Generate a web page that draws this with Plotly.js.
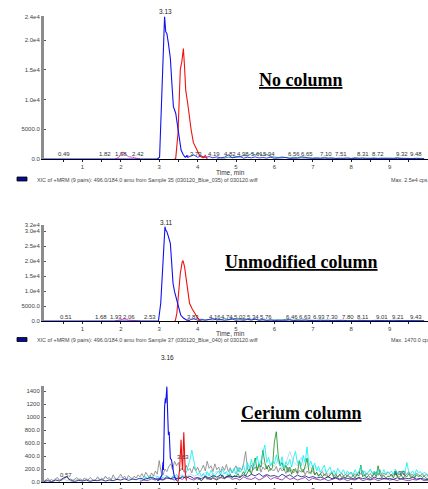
<!DOCTYPE html>
<html>
<head>
<meta charset="utf-8">
<script src="https://cdn.plot.ly/plotly-3.0.1.min.js"></script>
<style>html,body{margin:0;padding:0;background:#fff;}#chart{width:428px;height:489px;}</style>
</head>
<body>
<div id="chart"></div>
<script>
// ---------- Panel 1: No column ----------
const p1BlueT = [0, 2.95, 3.01, 3.05, 3.09, 3.12, 3.14, 3.17, 3.20, 3.24, 3.29, 3.33, 3.37, 3.43, 3.50, 3.57, 3.63, 3.68, 3.72, 3.76];
const p1BlueV = [0, 0, 300, 8250, 15500, 21200, 24000, 21430, 21100, 19470, 16960, 12740, 8800, 7700, 4360, 1510, 670, 300, 500, 200];
const p1RedT = [3.40, 3.43, 3.49, 3.52, 3.55, 3.59, 3.63, 3.66, 3.69, 3.74, 3.78, 3.83, 3.89, 3.98, 4.06, 4.15, 4.20, 4.25];
const p1RedV = [0, 100, 4360, 8800, 15100, 16400, 18600, 15500, 11600, 9460, 7200, 5000, 2750, 1400, 500, 200, 600, 0];
const p1MagT = [1.85, 1.95, 2.00, 2.05, 2.10, 2.15, 2.20, 2.30, 2.40, 2.50];
const p1MagV = [0, 300, 800, 1200, 900, 600, 400, 300, 150, 0];
const p1BlueNoiseStart = 3.7;
const p1BlueNoise = [600,400,700,300,500,250,400,200,350,180, 300,700,200,250,400,150,300,200,350,180, 250,150,300,120,200,160,250,100,180,140, 200,120,160,100,150,90,130,110,160,80, 120,90,140,70,110,90,130,80,100,70, 110,80,120,70,100,90,110,70,100,60, 80,60,70];
const p1TealStart = 4.5;
const p1Teal = [100,200,150,300,250,400,350,600,500,900, 700,950,600,800,400,300,250,350,200,150, 300,200,400,250,180,150,220,130,300,160, 200,120,150,100,180,110,250,130,160,120, 140,200,110,170,100,150,120,250,140,110, 130,90,150,100,80];
const p1PeakLabels = ['0.49','1.82','1.98','2.42','3.73','4.19','4.82','4.98','5.61','5.94','6.56','6.65','7.10','7.51','8.31','8.72','9.32','9.48'];
const p1PeakLabelT = [0.53, 1.60, 2.01, 2.44, 3.96, 4.43, 4.84, 5.18, 5.55, 5.86, 6.50, 6.85, 7.34, 7.73, 8.32, 8.71, 9.32, 9.69];
const p1TopLabel = '3.13', p1TopLabelT = 3.16;
const p1YTickVals = [0, 5000, 10000, 15000, 20000, 24000];
const p1YTickText = ['0.0', '5000.0', '1.0e4', '1.5e4', '2.0e4', '2.4e4'];

// ---------- Panel 2: Unmodified column ----------
const p2BlueT = [0, 2.98, 3.04, 3.08, 3.11, 3.15, 3.17, 3.20, 3.24, 3.29, 3.32, 3.36, 3.40, 3.46, 3.50, 3.56, 3.63, 3.72, 3.80];
const p2BlueV = [0, 0, 5900, 15900, 25900, 31430, 30330, 29770, 28100, 25900, 20330, 12570, 9770, 7000, 4230, 2000, 1000, 300, 200];
const p2RedT = [3.40, 3.42, 3.46, 3.50, 3.55, 3.60, 3.62, 3.66, 3.70, 3.75, 3.79, 3.85, 3.92, 4.00, 4.08];
const p2RedV = [0, 100, 2570, 8100, 15900, 19770, 20100, 18100, 14770, 10330, 5900, 4230, 2570, 1000, 0];
const p2MagT = [1.85, 1.95, 2.00, 2.05, 2.10, 2.15, 2.20, 2.30, 2.40, 2.50];
const p2MagV = [0, 300, 600, 800, 700, 500, 300, 200, 100, 0];
const p2BlueNoiseStart = 3.8;
const p2BlueNoise = [400,700,300,600,250,500,800,300,450,200, 350,600,250,400,200,500,300,650,250,400, 200,350,150,300,250,180,400,150,250,120, 300,180,250,120,200,150,280,110,180,140, 220,100,160,120,250,90,150,110,180,80, 140,100,200,90,130,110,170,80,120,100, 90,70];
const p2TealStart = 4.0;
const p2Teal = [150,300,200,450,350,600,400,750,500,900, 650,800,500,700,400,550,300,450,250,350, 200,400,300,600,350,250,450,200,300,180, 250,150,300,200,180,120,220,150,270,130, 180,110,240,140,160,100,200,130,170,110, 150,220,120,180,100,160,130,90,140,100];
const p2PeakLabels = ['0.51','1.68','1.93','2.06','2.53','3.83','4.16','4.74','5.02','5.34','5.76','6.46','6.63','6.93','7.30','7.80','8.11','9.01','9.21','9.43'];
const p2PeakLabelT = [0.56, 1.49, 1.88, 2.22, 2.77, 3.88, 4.44, 4.77, 5.10, 5.44, 5.77, 6.45, 6.79, 7.16, 7.49, 7.91, 8.30, 8.79, 9.23, 9.68];
const p2TopLabel = '3.11', p2TopLabelT = 3.18;
const p2YTickVals = [0, 5000, 10000, 15000, 20000, 25000, 30000, 32000];
const p2YTickText = ['0.0', '5000.0', '1.0e4', '1.5e4', '2.0e4', '2.5e4', '3.0e4', '3.2e4'];

// ---------- Panel 3: Cerium column ----------
const p3BlueT = [2.95, 2.99, 3.03, 3.07, 3.10, 3.11, 3.14, 3.16, 3.17, 3.20, 3.22, 3.24, 3.26, 3.29, 3.32, 3.36, 3.39, 3.43, 3.47];
const p3BlueV = [20, 30, 60, 108, 312, 185, 1160, 1290, 1215, 1470, 1060, 723, 775, 365, 340, 185, 90, 40, 20];
const p3RedT = [3.48, 3.50, 3.53, 3.56, 3.57, 3.59, 3.61, 3.64, 3.66, 3.68, 3.71];
const p3RedV = [0, 30, 185, 550, 650, 340, 185, 765, 440, 140, 20];
const fineStep = 0.05, coarseStep = 0.1;
const p3GrayStart = 0;
const p3Gray = [
 0,30,60,20,40,10,50,70,30,20,40,60,90,30,50,20,40,70,30,50,
 20,60,40,30,70,50,20,40,80,30,60,40,90,50,70,30,110,60,40,80,
 120,60,90,40,100,70,50,90,60,110,80,130,70,150,100,60,140,90,170,120,
 330,150,110,200,160,240,280,190,320,250,300,170,220,150,260,180,210,140,240,170,
 230,150,190,260,170,320,210,250,160,280,190,230,150,240,180,270,160,220,140,200,
 250,160,220,180,290,470,200,160,260,190,230,170,280,150,230,190,250,160,210,180,
 180,240,150,220,170,200,130,230,160,190,140,210,120,180,150,200,110,170,130,160,
 170,110,150,90,130,160,100,140,80,120,150,90,130,70,110,140,90,120,80,130,
 150,90,130,100,160,120,180,90,140,110,130,80,120,160,100,190,90,140,110,150,
 130,90,110,150,80,170,120,140,90,130,160,100,120,80,140,110,100,130,90,120,
 90];
const p3CyanStart = 2.5;
const p3Cyan = [
 20,60,30,80,40,100,50,70,30,90,
 60,40,80,50,100,70,40,90,60,120,80,50,100,70,140,240,340,490,300,180,
 110,150,90,130,70,160,100,180,120,90,140,170,110,200,130,160,90,190,140,210,
 120,230,150,180,260,140,300,200,350,230,280,400,250,330,450,570,300,380,250,320,
 280,420,300,250,390,200,310,260,350,230,380,470,290,330,250,410,300,540,260,320,
 220,290,170,240,150,200,260,140,190,230,130,180,120,210,160,140,190,110,170,130,
 150,110,190,130,160,240,120,170,110,150,200,130,170,110,180,140,120,190,130,160,
 140,170,110,200,130,160,120,180,140,300,150,130,170,110,190,140,160,120,150,130,
 110];
const p3GreenStart = 4.0;
const p3Green = [
 30,60,20,50,80,40,70,30,90,50,40,80,60,110,50,90,70,120,60,100,
 80,130,70,110,160,90,140,200,120,240,370,180,280,230,490,300,200,260,180,220,
 620,775,400,250,300,180,260,150,230,120,200,170,140,330,190,150,240,370,160,130,
 250,110,150,90,130,80,120,100,70,110,140,60,100,80,120,70,90,60,110,80,
 70,100,60,120,90,260,80,110,70,100,60,90,150,80,250,110,70,100,60,90,
 80,120,60,150,90,70,110,60,100,80,130,70,90,60,110,80,100,70,90,60,
 50];
const p3LightBlueStart = 0;
const p3LightBlue = [
 20,40,10,50,30,60,20,40,30,50,
 30,60,20,40,50,30,70,40,60,30,
 80,40,60,50,70,40,90,60,80,100,
 70,120,90,60,100,80,110,70,130,90,
 110,80,150,90,120,170,100,140,90,160,
 130,180,120,200,150,250,170,300,220,280,
 240,350,200,290,470,310,250,380,200,260,
 180,230,140,190,120,160,110,150,100,130,
 120,90,150,100,130,180,110,140,90,120,
 100,130,90,160,110,140,100,120,90,110,
 80];
const p3NavyStart = 0;
const p3Navy = [
 10,20,5,30,15,60,80,20,10,25,
 15,30,10,25,20,35,15,30,20,40,
 30,50,25,45,35,60,40,55,70,50,
 40,30,60,50,70,45,80,60,90,55,
 70,50,90,60,100,75,110,65,95,80,
 90,70,110,80,120,95,130,85,115,90,
 100,75,120,85,110,70,105,80,95,65,
 85,60,75,55,80,50,70,45,65,55,
 60,45,70,50,65,40,75,50,60,45,
 55,40,65,45,60,50,70,45,55,40,
 35];
const p3PurpleStart = 2.5;
const p3Purple = [
 10,30,20,50,30,60,40,80,50,30,
 70,40,90,50,30,60,20,80,40,60,
 30,70,50,90,40,60,30,80,50,40,
 70,30,60,100,40,70,50,30,80,40,
 60,30,50,70,20,60,40,30,50,20,
 40,60,30,50,20,40,30,60,20,40,
 30,50,20,40,60,30,40,20,50,30,
 20,40,30,50,20,30];
const p3PeakLabels = ['0.57', '3.63', '9.29'];
const p3PeakLabelT = [0.58, 3.62, 9.26];
const p3PeakLabelY = [475, 457, 473];
const p3TopLabel = '3.16', p3TopLabelT = 3.21;
const p3YTickVals = [0, 200, 400, 600, 800, 1000, 1200, 1400];
const p3YTickText = ['0.0', '200.0', '400.0', '600.0', '800.0', '1000', '1200', '1400'];

// ---------- shared axis / text ----------
const xTickVals = [0.5,1,1.5,2,2.5,3,3.5,4,4.5,5,5.5,6,6.5,7,7.5,8,8.5,9,9.5];
const xTickText = ['','1','','2','','3','','4','','5','','6','','7','','8','','9',''];
const panelTitles = ['No column', 'Unmodified column', 'Cerium column'];
const xTitle = 'Time, min';
const legendTexts = [
  'XIC of +MRM (9 pairs): 496.0/184.0 amu from Sample 35 (030120_Blue_035) of 030120.wiff',
  'XIC of +MRM (9 pairs): 496.0/184.0 amu from Sample 37 (030120_Blue_040) of 030120.wiff'];
const maxTexts = ['Max. 2.5e4 cps.', 'Max. 1470.0 cps.'];

// ---------- build ----------
const W = 428, H = 489, ML = 44;
const px = x => (x - ML) / (W - ML);
const py = y => 1 - y / H;
const grid = (start, step, n) => Array.from({length: n}, (_, i) => +(start + i * step).toFixed(3));

const BLUE = '#1010f0', RED = '#f01010', MAG = '#e020e0', CYAN = '#00f0f0', GRAY = '#808080',
      GREEN = '#108a10', LBLUE = '#b8d0ee', NAVY = '#101080', PURPLE = '#8020a0', TEAL = '#108080';

function ln(x, y, color, ax, w) {
  return {type: 'scatter', mode: 'lines', x: x, y: y, xaxis: 'x' + (ax === 1 ? '' : ax), yaxis: 'y' + (ax === 1 ? '' : ax),
          line: {color: color, width: w || 1}, hoverinfo: 'skip'};
}

const traces = [
  ln(p1MagT, p1MagV, MAG, 1, 0.8),
  ln(grid(p1TealStart, coarseStep, p1Teal.length), p1Teal, TEAL, 1, 0.8),
  ln(grid(p1BlueNoiseStart, coarseStep, p1BlueNoise.length), p1BlueNoise, BLUE, 1, 0.8),
  ln(p1RedT, p1RedV, RED, 1, 1.1),
  ln(p1BlueT, p1BlueV, BLUE, 1, 1.1),

  ln(p2MagT, p2MagV, MAG, 2, 0.8),
  ln(grid(p2TealStart, coarseStep, p2Teal.length), p2Teal, TEAL, 2, 0.8),
  ln(grid(p2BlueNoiseStart, coarseStep, p2BlueNoise.length), p2BlueNoise, BLUE, 2, 0.8),
  ln(p2RedT, p2RedV, RED, 2, 1.1),
  ln(p2BlueT, p2BlueV, BLUE, 2, 1.1),

  ln(grid(p3LightBlueStart, coarseStep, p3LightBlue.length), p3LightBlue, LBLUE, 3, 0.8),
  ln(grid(p3GrayStart, fineStep, p3Gray.length), p3Gray, GRAY, 3, 0.8),
  ln(grid(p3GreenStart, fineStep, p3Green.length), p3Green, GREEN, 3, 0.8),
  ln(grid(p3CyanStart, fineStep, p3Cyan.length), p3Cyan, CYAN, 3, 0.8),
  ln(grid(p3PurpleStart, coarseStep, p3Purple.length), p3Purple, PURPLE, 3, 0.8),
  ln(grid(p3NavyStart, coarseStep, p3Navy.length), p3Navy, NAVY, 3, 0.8),
  ln(p3RedT, p3RedV, RED, 3, 1.1),
  ln(p3BlueT, p3BlueV, BLUE, 3, 1.1)
];

const tickFont = {family: 'Liberation Sans, Arial, sans-serif', size: 6, color: '#444'};
function xax(anchor) {
  return {domain: [0, 1], range: [0, 10], anchor: anchor, showgrid: false, zeroline: false,
          showline: true, linecolor: '#000', linewidth: 1, ticks: 'outside', ticklen: 2, tickcolor: '#222',
          tickmode: 'array', tickvals: xTickVals, ticktext: xTickText, tickfont: tickFont, fixedrange: true};
}
function yax(anchor, dom, range, tv, tt) {
  return {domain: dom, range: range, anchor: anchor, showgrid: false, zeroline: false,
          showline: true, linecolor: '#8c8c8c', linewidth: 3, ticks: 'inside', ticklen: 2, tickcolor: '#555',
          tickmode: 'array', tickvals: tv, ticktext: tt, tickfont: tickFont, fixedrange: true};
}

const ann = [];
const small = (size, color) => ({family: 'Liberation Sans, Arial, sans-serif', size: size, color: color});
// panel titles
[[80, 0], [262, 1], [413, 2]].forEach(([y, i]) => ann.push({
  xref: 'paper', yref: 'paper', x: px(301), y: py(y), xanchor: 'center', yanchor: 'middle', showarrow: false,
  text: '<b><u>' + panelTitles[i] + '</u></b>', font: {family: 'Liberation Serif, Times New Roman, serif', size: 18, color: '#000'}}));
// x titles
[172, 333].forEach(y => ann.push({xref: 'paper', yref: 'paper', x: px(230), y: py(y), xanchor: 'center', yanchor: 'middle',
  showarrow: false, text: xTitle, font: small(6.5, '#333')}));
// legend text
[[180, 0], [340, 1]].forEach(([y, i]) => {
  ann.push({xref: 'paper', yref: 'paper', x: px(35), y: py(y), xanchor: 'left', yanchor: 'middle', showarrow: false,
    text: legendTexts[i], font: small(5.4, '#444')});
  ann.push({xref: 'paper', yref: 'paper', x: px(389), y: py(y), xanchor: 'left', yanchor: 'middle', showarrow: false,
    text: maxTexts[i], font: small(5.4, '#444')});
});
// peak labels
p1PeakLabels.forEach((t, i) => ann.push({xref: 'x', yref: 'paper', x: p1PeakLabelT[i], y: py(154), xanchor: 'center', yanchor: 'middle',
  showarrow: false, text: t, font: small(6, '#333')}));
p2PeakLabels.forEach((t, i) => ann.push({xref: 'x2', yref: 'paper', x: p2PeakLabelT[i], y: py(317), xanchor: 'center', yanchor: 'middle',
  showarrow: false, text: t, font: small(6, '#333')}));
p3PeakLabels.forEach((t, i) => ann.push({xref: 'x3', yref: 'paper', x: p3PeakLabelT[i], y: py(p3PeakLabelY[i]), xanchor: 'center', yanchor: 'middle',
  showarrow: false, text: t, font: small(6, '#333')}));
[[p1TopLabel, p1TopLabelT, 'x', 12], [p2TopLabel, p2TopLabelT, 'x2', 222], [p3TopLabel, p3TopLabelT, 'x3', 357]].forEach(([t, x, xr, y]) =>
  ann.push({xref: xr, yref: 'paper', x: x, y: py(y), xanchor: 'center', yanchor: 'middle', showarrow: false, text: t, font: small(6.5, '#222')}));

const shapes = [[177, 181], [337.5, 341.5]].map(([y0, y1]) => ({type: 'rect', xref: 'paper', yref: 'paper',
  x0: px(17), x1: px(27), y0: py(y1), y1: py(y0), fillcolor: '#0a0a90', line: {color: '#000', width: 0.8}}));

const layout = {
  width: W, height: H, margin: {l: ML, r: 0, t: 0, b: 0}, paper_bgcolor: '#fff', plot_bgcolor: '#fff',
  showlegend: false, hovermode: false,
  xaxis: xax('y'), xaxis2: xax('y2'), xaxis3: xax('y3'),
  yaxis: yax('x', [py(159), py(16.4)], [0, 24000], p1YTickVals, p1YTickText),
  yaxis2: yax('x2', [py(321), py(225)], [0, 32000], p2YTickVals, p2YTickText),
  yaxis3: yax('x3', [py(482), py(386)], [0, 1480], p3YTickVals, p3YTickText),
  annotations: ann, shapes: shapes
};

Plotly.newPlot('chart', traces, layout, {staticPlot: true, displayModeBar: false});
</script>
</body>
</html>
